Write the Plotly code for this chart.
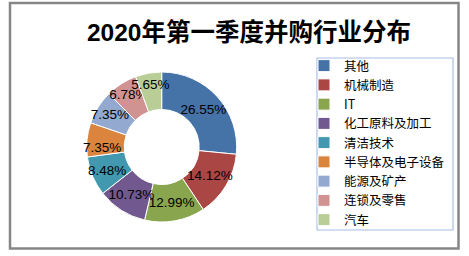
import plotly.graph_objects as go

categories = ["其他", "机械制造", "IT", "化工原料及加工", "清洁技术", "半导体及电子设备", "能源及矿产", "连锁及零售", "汽车"]
shares = [26.55, 14.12, 12.99, 10.73, 8.48, 7.35, 7.35, 6.78, 5.65]
colors = ["#4572A7", "#AA4643", "#89A54E", "#71588F", "#4198AF", "#DB843D", "#93A9CF", "#D19392", "#B9CD96"]
title_text = "2020年第一季度并购行业分布"

W, H = 469, 256
cx, cy, r = 161.7, 147.0, 75.0

fig = go.Figure(go.Pie(
    labels=categories,
    values=shares,
    sort=False,
    direction="clockwise",
    rotation=0,
    hole=0.5,
    marker=dict(colors=colors, line=dict(color="white", width=1)),
    texttemplate="%{value:.2f}%",
    textposition="inside",
    insidetextorientation="horizontal",
    textfont=dict(family="Liberation Sans, Noto Sans CJK SC", size=13.5, color="black"),
    domain=dict(x=[(cx - r) / W, (cx + r) / W], y=[1 - (cy + r) / H, 1 - (cy - r) / H]),
    hoverinfo="label+percent",
))

fig.update_layout(
    width=W, height=H,
    margin=dict(l=0, r=0, t=0, b=0),
    paper_bgcolor="white",
    plot_bgcolor="white",
    uniformtext=dict(minsize=13.5, mode="show"),
    title=dict(
        text="<b>" + title_text + "</b>",
        x=249 / W, xanchor="center",
        y=1 - 32 / H, yanchor="middle",
        font=dict(family="Liberation Sans, Noto Sans CJK SC", size=24.5, color="black"),
    ),
    legend=dict(
        x=304 / W, xanchor="left",
        y=1 - 51 / H, yanchor="top",
        borderwidth=0,
        bgcolor="rgba(0,0,0,0)",
        font=dict(family="Noto Sans CJK SC", size=12.5, color="black"),
        itemwidth=30,
        tracegroupgap=0,
    ),
    shapes=[
        dict(
            type="rect", xref="paper", yref="paper",
            x0=10 / W, x1=458.5 / W, y0=1 - 248.5 / H, y1=1 - 3 / H,
            line=dict(color="#868686", width=2.5),
            fillcolor="rgba(0,0,0,0)",
        ),
        dict(
            type="rect", xref="paper", yref="paper",
            x0=317 / W, x1=453 / W, y0=1 - 230 / H, y1=1 - 58 / H,
            line=dict(color="#A9BEE6", width=1.2),
            fillcolor="rgba(0,0,0,0)", layer="below",
        ),
    ],
)

fig.write_html("out.html")
